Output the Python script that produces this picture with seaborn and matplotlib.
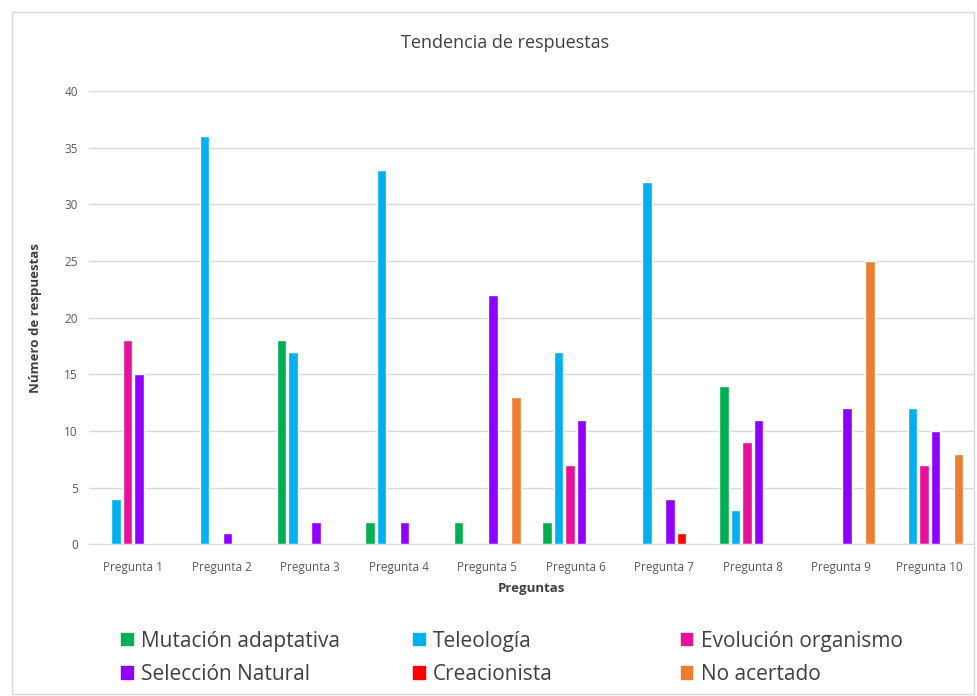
import matplotlib
matplotlib.use("Agg")
import matplotlib.pyplot as plt
from matplotlib.patches import Patch, Rectangle
import seaborn as sns
import pandas as pd

preguntas = ["Pregunta 1", "Pregunta 2", "Pregunta 3", "Pregunta 4", "Pregunta 5",
             "Pregunta 6", "Pregunta 7", "Pregunta 8", "Pregunta 9", "Pregunta 10"]
series = ["Mutación adaptativa", "Teleología", "Evolución organismo",
          "Selección Natural", "Creacionista", "No acertado"]

mutacion = [0, 0, 18, 2, 2, 2, 0, 14, 0, 0]
teleologia = [4, 36, 17, 33, 0, 17, 32, 3, 0, 12]
evolucion = [18, 0, 0, 0, 0, 7, 0, 9, 0, 7]
seleccion = [15, 1, 2, 2, 22, 11, 4, 11, 12, 10]
creacionista = [0, 0, 0, 0, 0, 0, 1, 0, 0, 0]
no_acertado = [0, 0, 0, 0, 13, 0, 0, 0, 25, 8]

colors = ["#00B050", "#00B0F0", "#E8119C", "#9000FF", "#FF0000", "#ED7D31"]

values = [mutacion, teleologia, evolucion, seleccion, creacionista, no_acertado]
rows = []
for name, vals in zip(series, values):
    for p, v in zip(preguntas, vals):
        rows.append({"Pregunta": p, "Serie": name, "Valor": v})
df = pd.DataFrame(rows)

sns.set_style("white")
plt.rcParams["font.family"] = ["Open Sans", "DejaVu Sans"]

fig = plt.figure(figsize=(9.77, 6.96), dpi=100)
ax = fig.add_axes([0.091, 0.218, 0.906, 0.651])

sns.barplot(data=df, x="Pregunta", y="Valor", hue="Serie", hue_order=series,
            order=preguntas, palette=colors, width=0.78, gap=0.18,
            legend=False, ax=ax, saturation=1)

ax.set_ylim(0, 40)
ax.set_yticks(range(0, 41, 5))
ax.yaxis.grid(True, color="#d9d9d9", linewidth=1)
ax.set_axisbelow(True)
for s in ["top", "right", "left"]:
    ax.spines[s].set_visible(False)
ax.spines["bottom"].set_color("#d9d9d9")
ax.tick_params(axis="both", length=0, labelsize=8.5, colors="#595959")
ax.tick_params(axis="x", pad=12)
ax.tick_params(axis="y", pad=8)

ax.set_xlabel("Preguntas", fontsize=9.5, fontweight="bold", color="#404040", labelpad=6)
ax.set_ylabel("Número de respuestas", fontsize=9.5, fontweight="bold", color="#404040", labelpad=16)
fig.text(0.517, 0.938, "Tendencia de respuestas", ha="center", va="center",
         fontsize=13, color="#404040")

fig.patches.append(Rectangle((0.012, 0.003), 0.985, 0.98, transform=fig.transFigure,
                             fill=False, edgecolor="#d9d9d9", linewidth=1))

handles = [Patch(facecolor=c, edgecolor=c) for c in colors]
cols = [(0.124, [0, 3]), (0.423, [1, 4]), (0.697, [2, 5])]
for x, idx in cols:
    fig.legend([handles[i] for i in idx], [series[i] for i in idx],
               loc="upper left", bbox_to_anchor=(x, 0.094), frameon=False,
               fontsize=15, handlelength=0.55, handleheight=0.55,
               handletextpad=0.4, labelspacing=0.6, labelcolor="#404040",
               borderpad=0, borderaxespad=0)

fig.savefig("out.png", dpi=100)
